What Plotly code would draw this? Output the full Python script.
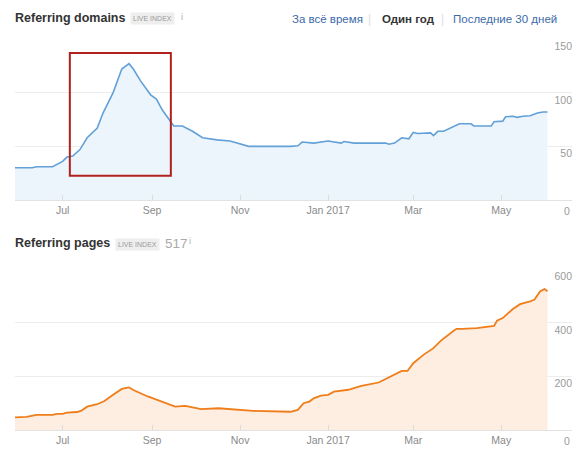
import plotly.graph_objects as go
from plotly.subplots import make_subplots

# Referring domains (top chart)
domain_dates = [
    "2016-05-29", "2016-06-10", "2016-06-13", "2016-06-24", "2016-07-01", "2016-07-04",
    "2016-07-08", "2016-07-13", "2016-07-18", "2016-07-25", "2016-07-29", "2016-08-05",
    "2016-08-11", "2016-08-16", "2016-08-19", "2016-08-24", "2016-08-31", "2016-09-04",
    "2016-09-08", "2016-09-14", "2016-09-16", "2016-09-22", "2016-09-29", "2016-10-06",
    "2016-10-16", "2016-10-25", "2016-11-01", "2016-11-07", "2016-12-06", "2016-12-11",
    "2016-12-14", "2016-12-22", "2017-01-01", "2017-01-10", "2017-01-12", "2017-01-19",
    "2017-02-10", "2017-02-12", "2017-02-16", "2017-02-21", "2017-02-26", "2017-03-01",
    "2017-03-04", "2017-03-13", "2017-03-15", "2017-03-18", "2017-03-22", "2017-03-29",
    "2017-04-02", "2017-04-10", "2017-04-12", "2017-04-24", "2017-04-26", "2017-05-02",
    "2017-05-04", "2017-05-09", "2017-05-12", "2017-05-16", "2017-05-21", "2017-05-26",
    "2017-05-30", "2017-06-02",
]
domain_values = [
    30, 30, 31, 31, 36, 40,
    41, 47, 58, 67, 81, 100,
    122, 127, 122, 111, 98, 94,
    84, 73, 69, 69, 64, 58,
    56, 55, 52, 50, 50, 50.5,
    54, 53, 55, 53, 54.5, 53,
    53, 52, 53, 58, 57, 63,
    62, 62.5, 60, 64, 64, 68,
    71, 71, 69, 69, 73, 73.5,
    77.5, 78, 77, 78, 78.5, 81,
    82, 82,
]

# Referring pages (bottom chart)
page_dates = [
    "2016-05-29", "2016-06-06", "2016-06-13", "2016-06-24", "2016-06-27", "2016-07-01",
    "2016-07-04", "2016-07-11", "2016-07-14", "2016-07-18", "2016-07-25", "2016-07-30",
    "2016-08-05", "2016-08-11", "2016-08-16", "2016-08-19", "2016-08-29", "2016-09-03",
    "2016-09-10", "2016-09-17", "2016-09-24", "2016-10-05", "2016-10-17", "2016-11-01",
    "2016-11-10", "2016-12-06", "2016-12-11", "2016-12-15", "2016-12-19", "2016-12-22",
    "2016-12-27", "2017-01-01", "2017-01-05", "2017-01-15", "2017-01-24", "2017-02-05",
    "2017-02-12", "2017-02-18", "2017-02-21", "2017-02-25", "2017-03-01", "2017-03-08",
    "2017-03-15", "2017-03-20", "2017-03-25", "2017-03-29", "2017-03-31", "2017-04-04",
    "2017-04-14", "2017-04-24", "2017-04-26", "2017-04-28", "2017-05-02", "2017-05-09",
    "2017-05-14", "2017-05-21", "2017-05-24", "2017-05-28", "2017-05-31", "2017-06-02",
]
page_values = [
    47, 49, 56, 56, 60, 60,
    65, 67, 72, 87, 96, 108,
    131, 153, 159, 149, 125, 115,
    100, 87, 90, 78, 81, 75,
    71, 68, 75, 100, 106, 118,
    128, 131, 143, 150, 164, 177,
    197, 212, 220, 220, 249, 280,
    305, 332, 355, 370, 377, 377,
    380, 386, 388, 407, 417, 451,
    469, 479, 486, 517, 525, 517,
]

tick_dates = ["2016-07-01", "2016-09-01", "2016-11-01", "2017-01-01", "2017-03-01", "2017-05-01"]
tick_labels = ["Jul", "Sep", "Nov", "Jan 2017", "Mar", "May"]
x_range = ["2016-05-29", "2017-06-19"]

# highlighted window on the domains chart
box_dates = ["2016-07-06", "2016-09-14"]
box_values = [22.5, 137]

W, H = 579, 456
LEFT, RIGHT = 15, 7
FONT = "Liberation Sans, Arial"


def px_x(x):
    return (x - LEFT) / (W - LEFT - RIGHT)


def px_y(y):
    return 1 - y / H


fig = make_subplots(rows=2, cols=1)

fig.add_trace(
    go.Scatter(
        x=domain_dates, y=domain_values, mode="lines",
        line=dict(color="#62a0d8", width=1.6),
        fill="tozeroy", fillcolor="#edf5fc",
        showlegend=False, hoverinfo="skip",
    ),
    row=1, col=1,
)
fig.add_trace(
    go.Scatter(
        x=page_dates, y=page_values, mode="lines",
        line=dict(color="#ef7d1a", width=1.8),
        fill="tozeroy", fillcolor="#fdeee1",
        showlegend=False, hoverinfo="skip",
    ),
    row=2, col=1,
)

fig.add_shape(
    type="rect", xref="x", yref="y",
    x0=box_dates[0], x1=box_dates[1], y0=box_values[0], y1=box_values[1],
    line=dict(color="#b0201e", width=2), fillcolor="rgba(0,0,0,0)",
)

fig.update_xaxes(
    range=x_range, tickvals=tick_dates, ticktext=tick_labels,
    ticks="inside", ticklen=5, tickcolor="#dcdcdc",
    showgrid=False, showline=True, linecolor="#e2e2e2", linewidth=1,
    tickfont=dict(family=FONT, size=10.5, color="#8a8a8a"),
)

yaxis_style = dict(
    side="right", ticklabelposition="inside bottom", ticklabelstandoff=-3,
    showgrid=True, gridcolor="#ececec", zeroline=False,
    tickfont=dict(family=FONT, size=10.5, color="#9a9a9a"),
)
fig.update_yaxes(range=[0, 150], dtick=50, domain=[px_y(200), px_y(39)], row=1, col=1, **yaxis_style)
fig.update_yaxes(range=[0, 600], dtick=200, domain=[px_y(430), px_y(269)], row=2, col=1, **yaxis_style)

ann = []


def label(text, x, y, size, color, **kw):
    ann.append(dict(
        text=text, x=px_x(x), y=px_y(y), xref="paper", yref="paper",
        xanchor="left", yanchor="middle", showarrow=False,
        font=dict(family=FONT, size=size, color=color), **kw,
    ))


label("<b>Referring domains</b>", 13, 18, 12.5, "#333333")
label("LIVE INDEX", 130, 19, 7, "#9a9a9a", bgcolor="#eeeeee", borderpad=2)
label("i", 179, 17, 9, "#aaaaaa")
label("За всё время", 290, 19, 11.5, "#3b6aa8")
label("|", 366, 19, 12, "#dddddd")
label("<b>Один год</b>", 380, 19, 11.5, "#333333")
label("|", 439, 19, 12, "#dddddd")
label("Последние 30 дней", 451, 19, 11.5, "#3b6aa8")

label("<b>Referring pages</b>", 13, 243, 12.5, "#333333")
label("LIVE INDEX", 115, 244, 7, "#9a9a9a", bgcolor="#eeeeee", borderpad=2)
label("517", 163, 243, 13.5, "#aaaaaa")
label("i", 187, 241, 9, "#aaaaaa")

# zero labels sit below the baseline, outside the plot area
for yref in ("y", "y2"):
    ann.append(dict(
        text="0", x=1, y=0, xref="paper", yref=yref,
        xanchor="right", yanchor="top", yshift=-3, xshift=0, showarrow=False,
        font=dict(family=FONT, size=10.5, color="#9a9a9a"),
    ))

fig.update_layout(
    width=W, height=H,
    margin=dict(l=LEFT, r=RIGHT, t=0, b=0),
    paper_bgcolor="white", plot_bgcolor="white",
    font=dict(family=FONT),
    annotations=ann,
)

fig.write_html(
    "out.html",
    config={"displayModeBar": False},
    post_script="document.body.style.margin = '0';",
)
